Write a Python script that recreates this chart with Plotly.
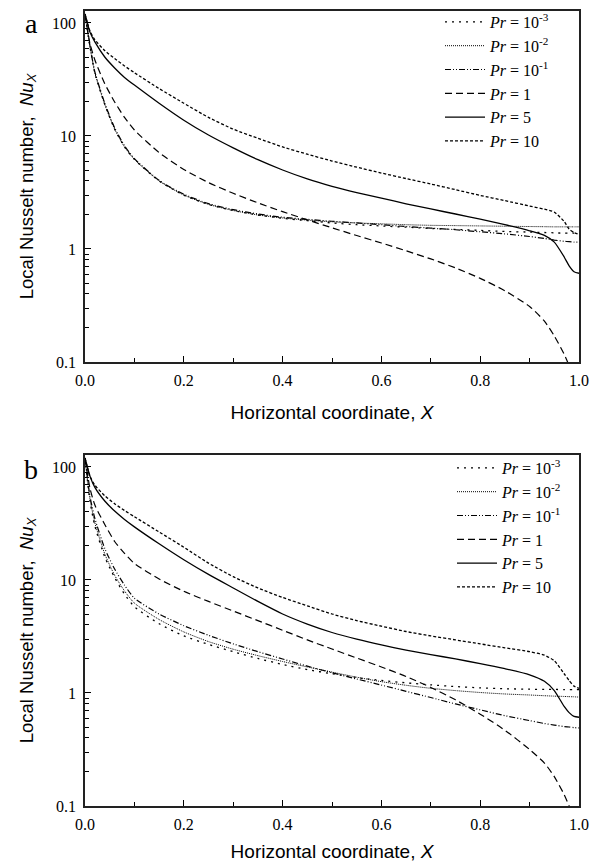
import plotly.graph_objects as go

# ---------------- data ----------------
X = [0, 0.01, 0.02, 0.04, 0.06, 0.08, 0.1, 0.15, 0.2, 0.25, 0.3, 0.35, 0.4, 0.45,
     0.5, 0.55, 0.6, 0.65, 0.7, 0.75, 0.8, 0.85, 0.9, 0.93, 0.95, 0.97, 0.98, 0.99, 1.0]

labels = ["<i>Pr</i> = 10<sup>-3</sup>", "<i>Pr</i> = 10<sup>-2</sup>", "<i>Pr</i> = 10<sup>-1</sup>",
          "<i>Pr</i> = 1", "<i>Pr</i> = 5", "<i>Pr</i> = 10"]

# panel a
a_pr0001 = [120, 62, 36, 19, 11.5, 8.0, 6.2, 4.0, 3.0, 2.48, 2.19, 2.0, 1.87, 1.78,
            1.7, 1.64, 1.6, 1.56, 1.52, 1.49, 1.46, 1.43, 1.41, 1.40, 1.39, 1.38, 1.38, 1.38, 1.38]
a_pr001 = [120, 62, 36, 19, 11.5, 8.0, 6.2, 4.0, 3.0, 2.48, 2.19, 2.0, 1.88, 1.8,
           1.74, 1.7, 1.67, 1.64, 1.62, 1.61, 1.6, 1.59, 1.58, 1.575, 1.57, 1.57, 1.57, 1.57, 1.57]
a_pr01 = [120, 63, 37, 19.5, 11.8, 8.2, 6.3, 4.05, 3.05, 2.52, 2.23, 2.04, 1.91, 1.83,
          1.76, 1.7, 1.64, 1.58, 1.53, 1.48, 1.42, 1.36, 1.29, 1.24, 1.2, 1.17, 1.16, 1.15, 1.15]
a_pr1 = [120, 66, 47, 29, 20, 14.6, 11.3, 7.13, 5.05, 3.87, 3.11, 2.56, 2.14, 1.81,
         1.54, 1.315, 1.13, 0.964, 0.817, 0.68, 0.55, 0.427, 0.31, 0.23, 0.17, 0.117, 0.093, 0.074, 0.056]
a_pr5 = [120, 83, 68, 50, 40, 33, 28.2, 19.5, 13.8, 10.2, 7.85, 6.17, 5.0, 4.17,
         3.59, 3.16, 2.82, 2.51, 2.26, 2.04, 1.84, 1.64, 1.45, 1.32, 1.15, 0.85, 0.71, 0.63, 0.61]
a_pr10 = [120, 85, 71, 57, 48.4, 41.7, 36.3, 26.3, 19.5, 14.6, 11.5, 9.55, 8.0, 6.9,
          6.0, 5.3, 4.7, 4.2, 3.76, 3.35, 2.98, 2.68, 2.4, 2.25, 2.12, 1.75, 1.5, 1.4, 1.35]

# panel b
b_pr0001 = [120, 50, 30, 16, 10.5, 7.5, 5.8, 4.1, 3.2, 2.69, 2.32, 2.02, 1.79, 1.61,
            1.48, 1.37, 1.29, 1.23, 1.18, 1.14, 1.11, 1.09, 1.08, 1.075, 1.075, 1.07, 1.07, 1.07, 1.07]
b_pr001 = [120, 52, 32, 17, 11, 8.0, 6.24, 4.47, 3.47, 2.85, 2.44, 2.14, 1.9, 1.7,
           1.53, 1.38, 1.26, 1.17, 1.10, 1.05, 1.01, 0.98, 0.96, 0.946, 0.938, 0.932, 0.928, 0.925, 0.92]
b_pr01 = [120, 55, 35, 19, 12.5, 9.0, 6.9, 5.0, 3.94, 3.24, 2.72, 2.32, 2.0, 1.73,
          1.51, 1.33, 1.175, 1.035, 0.912, 0.80, 0.71, 0.63, 0.57, 0.537, 0.52, 0.505, 0.5, 0.494, 0.49]
b_pr1 = [120, 65, 46, 31, 21.9, 17.2, 14.0, 10.2, 7.94, 6.46, 5.31, 4.37, 3.59, 2.95,
         2.45, 2.04, 1.7, 1.4, 1.12, 0.87, 0.65, 0.468, 0.316, 0.24, 0.182, 0.126, 0.1, 0.079, 0.063]
b_pr5 = [120, 83, 66, 50, 40.7, 34.3, 29.5, 20.9, 15.1, 11.2, 8.5, 6.46, 5.0, 4.07,
         3.43, 2.99, 2.66, 2.4, 2.19, 2.0, 1.82, 1.64, 1.45, 1.27, 1.05, 0.76, 0.67, 0.62, 0.61]
b_pr10 = [120, 83, 69, 55.6, 47.3, 41.2, 36.3, 26.6, 19.5, 14.1, 10.7, 8.5, 7.0, 5.9,
          5.0, 4.37, 3.9, 3.5, 3.2, 2.95, 2.72, 2.51, 2.32, 2.16, 1.93, 1.48, 1.29, 1.15, 1.1]

y_tickvals = [0.1, 1, 10, 100]
y_ticktext = ["0.1", "1", "10", "100"]
x_tickvals = [0.0, 0.2, 0.4, 0.6, 0.8, 1.0]
x_ticktext = ["0.0", "0.2", "0.4", "0.6", "0.8", "1.0"]

# ---------------- styles ----------------
dashes = ["2px,5px", "1px,1px", "6px,2px,1px,2px,1px,2px", "7px,4px", "solid", "3px,2px"]
widths = [1.3, 1.0, 1.2, 1.2, 1.3, 1.3]

fig = go.Figure()
panels = [
    ([a_pr0001, a_pr001, a_pr01, a_pr1, a_pr5, a_pr10], "x", "y", "legend"),
    ([b_pr0001, b_pr001, b_pr01, b_pr1, b_pr5, b_pr10], "x2", "y2", "legend2"),
]
for series, xa, ya, lg in panels:
    for name, vals, d, w in zip(labels, series, dashes, widths):
        fig.add_trace(go.Scatter(
            x=X, y=vals, mode="lines", name=name, xaxis=xa, yaxis=ya, legend=lg,
            line=dict(color="black", width=w, dash=d, shape="spline", smoothing=0.6),
        ))

minor_y = [v * m for v in (0.1, 1, 10) for m in range(2, 10)]

serif = "Liberation Serif, Times New Roman, serif"
sans = "Liberation Sans, Arial, sans-serif"

def xaxis(domain, anchor):
    return dict(
        domain=domain, anchor=anchor, range=[0, 1.0], showgrid=False, zeroline=False,
        automargin=False,
        showline=True, linecolor="#222", linewidth=1.5, mirror=True,
        ticks="inside", ticklen=6, tickwidth=1, tickcolor="black",
        tickvals=x_tickvals, ticktext=x_ticktext, ticklabelstandoff=3,
        minor=dict(tickvals=[0.1, 0.3, 0.5, 0.7, 0.9], ticks="inside", ticklen=4,
                   tickcolor="black", tickwidth=1),
        tickfont=dict(family=serif, size=16, color="black"),
        title=dict(text="Horizontal coordinate, <i>X</i>", font=dict(family=sans, size=19, color="black"),
                   standoff=18),
    )

def yaxis(domain, anchor):
    return dict(
        domain=domain, anchor=anchor, type="log", range=[-1, 2.106], showgrid=False, zeroline=False,
        automargin=False,
        showline=True, linecolor="#222", linewidth=1.5, mirror=True,
        ticks="inside", ticklen=6, tickwidth=1, tickcolor="black",
        tickvals=y_tickvals, ticktext=y_ticktext, ticklabelstandoff=4,
        minor=dict(tickvals=minor_y, ticks="inside", ticklen=4, tickcolor="black", tickwidth=1),
        tickfont=dict(family=serif, size=16, color="black"),
        title=dict(text="Local Nusselt number,  <i>Nu</i><sub><i>X</i></sub>",
                   font=dict(family=sans, size=18.5, color="black"), standoff=14),
    )

W, H = 597, 862
xd = [85 / W, 579 / W]
fig.update_layout(
    width=W, height=H, margin=dict(l=0, r=0, t=0, b=0, autoexpand=False),
    paper_bgcolor="white", plot_bgcolor="white",
    xaxis=xaxis(xd, "y"), yaxis=yaxis([(H - 362) / H, (H - 11) / H], "x"),
    xaxis2=xaxis(xd, "y2"), yaxis2=yaxis([(H - 806) / H, (H - 455) / H], "x2"),
    showlegend=True,
    legend=dict(x=440 / W, y=1 - 5 / H, xanchor="left", yanchor="top",
                bgcolor="rgba(0,0,0,0)", itemwidth=40,
                font=dict(family=serif, size=16, color="black"), tracegroupgap=0),
    legend2=dict(x=452 / W, y=1 - 451 / H, xanchor="left", yanchor="top",
                 bgcolor="rgba(0,0,0,0)", itemwidth=40,
                 font=dict(family=serif, size=16, color="black"), tracegroupgap=0),
    annotations=[
        dict(text="a", x=31 / W, y=1 - 24 / H, xref="paper", yref="paper", showarrow=False,
             xanchor="center", yanchor="middle",
             font=dict(family=serif, size=28, color="black")),
        dict(text="b", x=31 / W, y=1 - 470 / H, xref="paper", yref="paper", showarrow=False,
             xanchor="center", yanchor="middle",
             font=dict(family=serif, size=28, color="black")),
    ],
)

fig.write_html("out.html")
